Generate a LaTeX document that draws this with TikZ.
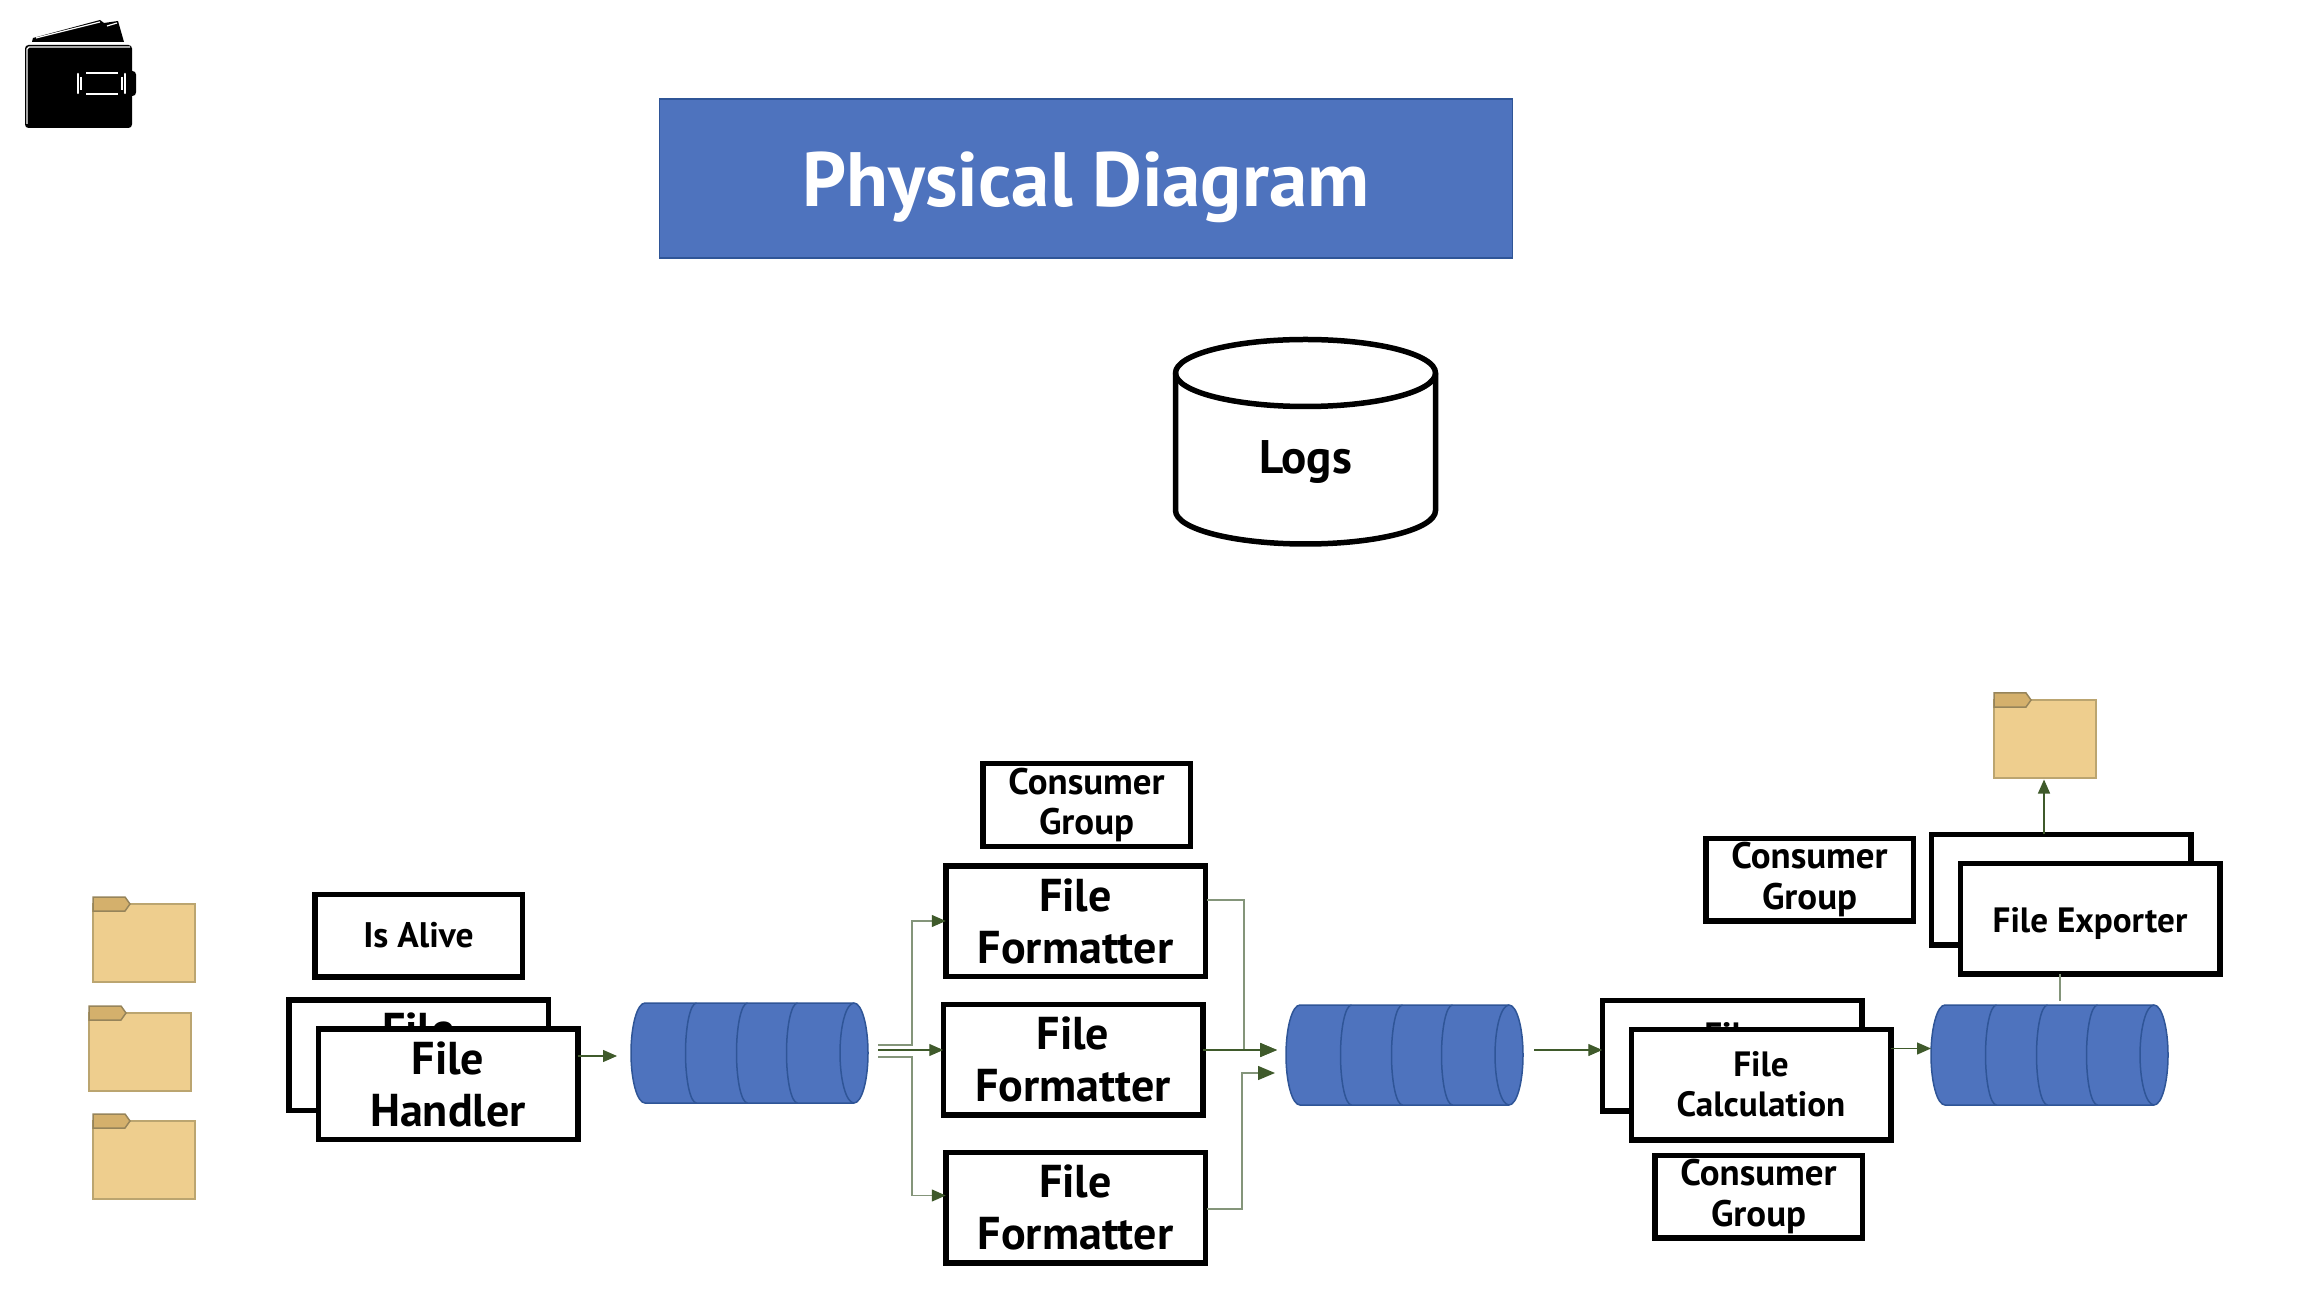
\documentclass[tikz,border=0pt]{standalone}
\usepackage{fontspec}
\setmainfont{PT Sans}
\usetikzlibrary{arrows.meta}
\definecolor{titleblue}{HTML}{4E73BE}
\definecolor{edgeblue}{HTML}{2F5597}
\definecolor{tipgreen}{HTML}{3F5A2B}
\definecolor{palegreen}{HTML}{84957A}
\definecolor{foldertan}{HTML}{EECE8E}
\definecolor{folderedge}{HTML}{BBA570}
\definecolor{tabtan}{HTML}{D4B06C}
\tikzset{
    bigbox/.style={draw, fill=white, line width=0.055cm, align=center, inner sep=0, outer sep=0,
        minimum width=2.595cm, minimum height=1.105cm, font=\fontsize{13.1}{14.8}\selectfont\bfseries},
    smallbox/.style={draw, fill=white, line width=0.055cm, align=center, inner sep=0, outer sep=0,
        minimum width=2.075cm, minimum height=0.825cm, font=\fontsize{10.1}{11.4}\selectfont\bfseries},
    groupbox/.style={smallbox, font=\fontsize{10.5}{11.4}\selectfont\bfseries},
    midbox/.style={bigbox, font=\fontsize{10}{11.4}\selectfont\bfseries},
    queue/.style={inner sep=0, outer sep=0, minimum width=2.37cm, minimum height=1cm},
    queueline/.style={draw=edgeblue, line width=0.015cm},
    folderbody/.style={draw=folderedge, fill=foldertan, line width=0.015cm, anchor=north west,
        inner sep=0, outer sep=0, minimum width=1.02cm, minimum height=0.78cm},
    foldertab/.style={draw=folderedge!80!black, fill=tabtan, line width=0.015cm},
    paleline/.style={draw=palegreen, line width=0.013cm},
    darkline/.style={draw=tipgreen, line width=0.013cm},
    smalltip/.style={-{Triangle[length=0.14cm,width=0.12cm,fill=tipgreen,color=tipgreen]}},
    bigtip/.style={-{Triangle[length=0.17cm,width=0.14cm,fill=tipgreen,color=tipgreen]}},
}
\newcommand{\folderat}[3]{
    \node[folderbody] (#1) at (#2,#3) {};
    \draw[foldertab] (#2,#3+0.07) -- ++(0.32,0) -- ++(0.05,-0.07) -- ++(-0.05,-0.07) -- ++(-0.32,0) -- cycle;
}
\newcommand{\queueat}[3]{
    \node[queue] (#1) at (#2,#3) {};
    \draw[queueline, fill=titleblue] (#2-1.045,#3+0.5) -- (#2+1.045,#3+0.5) arc (90:-90:0.14 and 0.5)
        -- (#2-1.045,#3-0.5) arc (270:90:0.14 and 0.5) -- cycle;
    \draw[queueline] (#2+1.045,#3+0.5) arc (90:270:0.14 and 0.5);
    \foreach \x in {-0.53,-0.02,0.48} \draw[queueline] (#2+\x,#3+0.5) arc (90:270:0.11 and 0.5);
}
\begin{document}
\begin{tikzpicture}
    \useasboundingbox (0,0) rectangle (23.1,12.9);

    % wallet
    \fill (0.32,12.48) -- (0.33,12.52) -- (1.00,12.70) -- (1.04,12.67) -- (1.18,12.69) -- (1.24,12.48) -- cycle;
    \fill[rounded corners=1pt] (0.25,12.45) rectangle (1.32,11.62);
    \fill[rounded corners=1pt] (1.28,12.19) rectangle (1.36,11.94);
    \draw[white, line width=0.012cm] (0.36,12.52) -- (1.00,12.68);
    \draw[white, line width=0.012cm] (1.07,12.64) -- (1.17,12.67);
    \draw[white, line width=0.012cm] (0.27,11.66) -- (0.27,12.41) -- (0.29,12.43) -- (1.30,12.43);
    \draw[white, line width=0.012cm] (0.86,12.17) -- (1.18,12.17);
    \draw[white, line width=0.012cm] (0.86,11.96) -- (1.18,11.96);
    \draw[white, line width=0.012cm] (0.81,12.13) -- (0.81,12.00);
    \draw[white, line width=0.012cm] (1.22,12.13) -- (1.22,12.00);
    \draw[white, line width=0.025cm, line cap=round] (0.78,12.16) -- (0.78,11.97);
    \draw[white, line width=0.025cm, line cap=round] (1.25,12.16) -- (1.25,11.97);

    % title and logs
    \node[draw=edgeblue, fill=titleblue, line width=0.015cm, inner sep=0, minimum width=8.53cm, minimum height=1.59cm,
        text=white, text height=0.74cm, text depth=0.18cm, font=\fontsize{21.9}{26}\selectfont\bfseries] (title) at (10.86,11.115) {Physical Diagram};
    \draw[line width=0.055cm, fill=white] (11.755,9.17) arc (180:0:1.30 and 0.335) -- (14.355,7.795)
        arc (0:-180:1.30 and 0.335) -- cycle;
    \draw[line width=0.055cm] (11.755,9.17) arc (180:360:1.30 and 0.335);
    \node[font=\fontsize{13.4}{15}\selectfont\bfseries, inner sep=0] (logs) at (13.055,8.28) {Logs};

    % folders
    \folderat{src1}{0.93}{3.86}
    \folderat{src2}{0.89}{2.77}
    \folderat{src3}{0.93}{1.69}
    \folderat{dest}{19.94}{5.90}

    % handler
    \node[smallbox] (alive) at (4.185,3.545) {Is Alive};
    \node[bigbox] (handlerb) at (4.185,2.35) {File\\Handler};
    \node[bigbox] (handler) at (4.48,2.06) {File\\Handler};

    % formatters
    \node[groupbox] (group1) at (10.865,4.85) {Consumer\\Group};
    \node[bigbox] (form1) at (10.755,3.69) {File\\Formatter};
    \node[bigbox] (form2) at (10.73,2.305) {File\\Formatter};
    \node[bigbox] (form3) at (10.755,0.825) {File\\Formatter};

    % calculation and exporter
    \node[midbox] (calcb) at (17.32,2.345) {File\\Calculation};
    \node[midbox] (calc) at (17.61,2.055) {File\\Calculation};
    \node[groupbox] (group3) at (17.585,0.935) {Consumer\\Group};
    \node[groupbox] (group2) at (18.095,4.105) {Consumer\\Group};
    \node[bigbox] (expb) at (20.61,4.005) {};
    \node[midbox, align=none, text height=0.35cm, text depth=0.08cm] (exp) at (20.9,3.715) {File Exporter};

    % queues
    \queueat{q1}{7.495}{2.37}
    \queueat{q2}{14.045}{2.35}
    \queueat{q3}{20.495}{2.35}

    % free ends
    \coordinate (outa) at (8.78,2.45);
    \coordinate (outb) at (8.78,2.40);
    \coordinate (outc) at (8.78,2.33);
    \coordinate (bar1) at (12.77,2.40);
    \coordinate (bar2) at (12.75,2.17);
    \coordinate (out2) at (15.34,2.40);

    \draw[darkline, smalltip] (handler.east |- 0,2.34) -- (6.17,2.34);

    \draw[paleline, smalltip] (outa) -- (9.12,2.45) -- (9.12,3.69) -- (form1.west);
    \draw[darkline, smalltip] (outb) -- (form2.west |- outb);
    \draw[paleline, smalltip] (outc) -- (9.12,2.33) -- (9.12,0.945) -- (form3.west |- 0,0.945);

    \draw[paleline, bigtip] (form1.east |- 0,3.90) ++(0.02,0) -- (12.44,3.90) -- (12.44,2.40) -- (bar1);
    \draw[darkline, bigtip] (form2.east |- bar1) -- (bar1);
    \draw[paleline, bigtip] (form3.east |- 0,0.81) ++(0.02,0) -- (12.42,0.81) -- (12.42,2.17) -- (bar2);

    \draw[darkline, smalltip] (out2) -- (calcb.west |- out2);
    \draw[darkline, smalltip] (calc.east |- 0,2.415) -- (q3.west |- 0,2.415);
    \draw[darkline, smalltip] (expb.north -| 20.44,0) -- (20.44,5.105);
    \draw[paleline] (exp.south -| 20.60,0) -- (20.60,2.89);
\end{tikzpicture}
\end{document}
